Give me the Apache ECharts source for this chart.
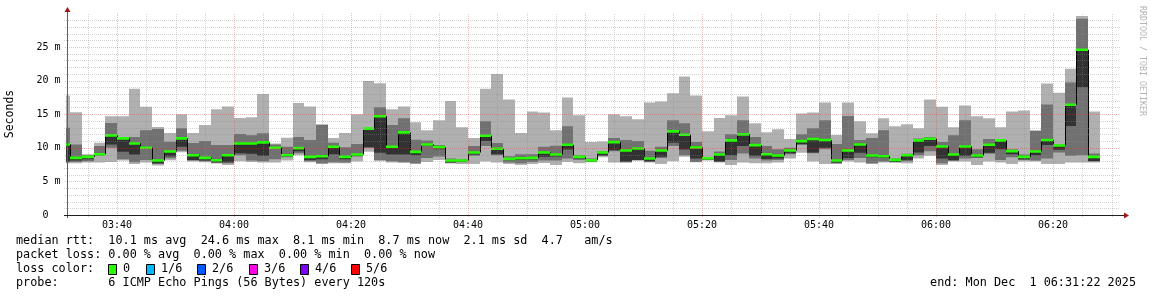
<!DOCTYPE html>
<html><head><meta charset="utf-8">
<script src="https://cdn.jsdelivr.net/npm/echarts@6/dist/echarts.min.js"></script>
<style>html,body{margin:0;padding:0;background:#fff;}#c{width:1152px;height:297px;}</style>
</head><body><div id="c"></div>
<script>
// ---- data (times in minutes after midnight, rtt in ms) ----
const firstStepStart = 210;      // 03:30, start of first (partly visible) 2-minute step
const stepMinutes = 2;
const viewStart = 211.367;       // 03:31:22
const viewEnd = 391.367;         // 06:31:22
const pingMax = [17.8,15.3,9.05,10.75,14.7,14.7,18.8,16.1,13.1,12.2,15.0,12.2,13.4,15.75,16.15,14.45,14.55,18.0,10.65,11.5,16.65,16.15,13.5,11.45,12.2,15.0,19.95,19.6,15.75,16.15,13.8,12.6,14.1,16.95,13.05,11.45,18.8,21.0,17.2,12.2,15.4,15.25,12.6,17.5,14.85,10.85,10.95,15.0,14.7,14.25,16.75,16.9,18.1,20.6,17.8,12.45,14.45,14.85,17.65,13.65,12.3,12.75,11.3,15.1,15.25,16.75,11.9,16.75,13.95,12.15,14.4,13.2,13.5,12.9,17.2,16.1,13.05,16.3,14.7,14.4,13.05,15.4,15.55,12.6,19.55,18.2,21.75,29.6,15.4];
const ping5 = [13.0,10.5,8.9,10.25,13.7,11.5,11.6,12.6,12.8,10.9,12.9,10.7,11.0,10.4,10.4,12.05,11.85,12.15,10.5,10.15,11.6,11.15,13.4,10.75,10.1,10.55,12.9,16.05,13.4,14.4,11.2,11.1,10.4,8.4,8.3,10.25,13.95,10.7,8.75,9.05,9.05,10.15,10.3,13.2,8.9,8.4,9.5,11.45,11.15,11.0,9.55,10.15,14.1,13.65,10.85,8.6,9.45,12.0,14.1,11.6,10.25,9.8,10.0,12.0,12.9,14.1,10.55,14.75,11.15,11.45,12.6,8.4,9.1,11.4,11.6,10.85,11.85,14.1,9.8,11.3,11.2,9.8,9.0,12.5,16.45,10.5,19.7,29.2,9.15];
const median = [10.5,8.5,8.65,9.05,11.85,11.4,10.65,10.0,8.1,9.45,11.4,8.9,8.5,8.15,8.9,10.65,10.65,10.8,10.0,8.9,9.95,8.65,8.75,10.15,8.65,9.0,12.85,14.7,10.15,12.3,9.4,10.5,10.1,8.1,8.1,9.3,11.8,9.85,8.35,8.45,8.5,9.3,9.0,10.45,8.65,8.15,9.3,10.85,9.6,9.9,8.4,9.6,12.45,11.95,10.05,8.45,9.0,11.1,12.0,10.4,9.05,8.85,9.6,11.0,11.3,11.15,8.1,9.6,10.5,8.85,8.75,8.2,8.9,11.1,11.35,10.2,9.0,10.2,8.85,10.45,11.1,9.5,8.65,9.45,11.15,10.35,16.4,24.6,8.65];
const ping3 = [8.0,8.1,8.3,8.9,10.5,9.4,9.0,9.9,7.7,8.75,10.15,8.2,8.1,7.85,7.85,9.2,9.1,8.8,9.9,8.7,9.5,8.2,8.3,9.05,8.3,8.8,10.1,9.25,9.0,9.0,8.9,10.3,9.8,7.85,7.95,9.0,11.0,9.05,8.15,8.2,8.25,8.65,8.7,9.75,8.4,8.0,8.85,9.65,7.95,8.2,8.0,8.65,10.75,9.75,8.4,8.3,7.95,8.9,10.25,8.8,8.35,8.4,9.2,10.55,9.3,10.0,7.8,8.5,9.25,8.6,8.5,7.9,8.2,9.3,10.25,8.4,8.2,8.8,8.6,9.25,9.8,9.05,8.3,8.9,10.4,9.7,13.25,19.0,8.05];
const ping2 = [7.8,7.9,8.0,8.9,10.0,8.3,7.85,8.2,7.6,8.45,9.55,8.1,8.0,7.75,7.7,8.9,8.1,8.0,8.3,8.6,9.2,8.0,7.7,7.85,7.8,8.7,10.0,8.2,8.0,7.9,7.7,8.5,8.7,7.75,7.85,8.8,10.25,8.9,7.8,7.7,7.9,8.1,8.1,8.4,8.2,7.95,8.8,9.5,7.85,8.15,7.9,8.5,10.25,8.9,7.9,8.2,7.9,8.2,9.15,8.4,8.1,8.2,9.05,10.4,9.2,9.8,7.7,8.2,8.5,7.7,7.95,7.85,8.0,8.9,9.5,7.7,8.05,8.4,8.5,9.1,8.2,8.6,8.2,8.1,8.4,9.3,8.8,8.9,7.95];
const pingMin = [7.7,7.7,7.8,7.8,7.9,8.1,7.6,7.8,7.35,8.15,9.35,7.95,7.85,7.65,7.45,8.0,7.9,7.8,7.8,8.1,8.9,7.85,7.6,7.7,7.7,7.95,9.4,8.0,7.8,7.75,7.6,7.9,8.2,7.65,7.6,7.6,7.95,7.8,7.6,7.45,7.6,7.75,7.45,7.9,7.7,7.85,8.6,7.8,7.8,8.1,7.8,7.6,8.0,8.65,7.85,8.1,7.8,7.45,7.8,7.7,7.7,7.8,8.4,9.25,7.95,7.6,7.6,7.95,7.8,7.6,7.8,7.8,7.7,8.4,8.8,7.45,7.95,7.95,7.45,7.95,7.8,7.6,7.95,7.95,7.6,7.6,7.8,7.8,7.8];
const xTickMinutes = [220,240,260,280,300,320,340,360,380];
const xTickLabels = ['03:40','04:00','04:20','04:40','05:00','05:20','05:40','06:00','06:20'];
const xMinorStep = 5;
const yTickValues = [0,5,10,15,20,25];
const yTickLabels = [' 0',' 5 m','10 m','15 m','20 m','25 m'];
const yMax = 30;
const legendLines = [
  'median rtt:  10.1 ms avg  24.6 ms max  8.1 ms min  8.7 ms now  2.1 ms sd  4.7   am/s',
  'packet loss: 0.00 % avg  0.00 % max  0.00 % min  0.00 % now',
  'loss color:',
  'probe:       6 ICMP Echo Pings (56 Bytes) every 120s'
];
const lossLabels = ['0','1/6','2/6','3/6','4/6','5/6'];
const lossColors = ['#26ff00','#00b8ff','#0059ff','#ff00ea','#7e00ff','#ff0000'];
const endText = 'end: Mon Dec  1 06:31:22 2025';

// ---- styles ----
const MONO = 'DejaVu Sans Mono, monospace';
const C_LIGHT = '#b0b0b0', C_MED = '#717171', C_DARK = '#323232';
function dots(color) {
  const c = document.createElement('canvas');
  c.width = 2; c.height = 2;
  const g = c.getContext('2d');
  g.fillStyle = color;
  g.fillRect(0, 0, 1, 1);
  g.fillRect(1, 1, 1, 1);
  return {image: c, repeat: 'repeat'};
}
const P_MINOR = dots('rgba(140,140,140,0.38)');
const P_MAJOR = dots('rgba(222,48,48,0.33)');

const chart = echarts.init(document.getElementById('c'), null, {renderer: 'canvas'});
const smokeData = median.map((m, i) => [firstStepStart + i * stepMinutes, pingMin[i], ping2[i], ping3[i], m, ping5[i], pingMax[i], i > 0 ? median[i - 1] : m]);

function smokeItem(params, api) {
  const t0 = api.value(0), t1 = t0 + stepMinutes;
  const p1 = api.value(1), p2 = api.value(2), p3 = api.value(3), med = api.value(4), p5 = api.value(5), p6 = api.value(6), prev = api.value(7);
  const xa = Math.round(api.coord([t0, 0])[0]);
  const xb = Math.round(api.coord([t1, 0])[0]);
  const band = (lo, hi, color) => {
    const ya = api.coord([t0, hi])[1], yb = api.coord([t0, lo])[1];
    return {type: 'rect', shape: {x: xa, y: ya, width: xb - xa, height: yb - ya}, style: {fill: color}};
  };
  const ym = api.coord([t0, med])[1];
  const yp = api.coord([t0, prev])[1];
  return {type: 'group', children: [
    band(p1, p6, C_LIGHT),
    band(p2, p5, C_MED),
    band(p3, med, C_DARK),
    {type: 'line', shape: {x1: xa + 0.5, y1: yp, x2: xa + 0.5, y2: ym}, style: {stroke: '#000', lineWidth: 1}},
    {type: 'line', shape: {x1: xa, y1: ym, x2: xb, y2: ym}, style: {stroke: '#000', lineWidth: 1}},
    {type: 'rect', shape: {x: xa, y: ym - 1.3, width: xb - xa, height: 2.6}, style: {fill: lossColors[0]}}
  ]};
}

function frameItem(params, api) {
  const ch = [];
  const o = api.coord([viewStart, 0]);
  const e = api.coord([viewEnd, yMax]);
  const x0 = Math.round(o[0]), y0 = Math.round(o[1]);
  const xEnd = Math.round(e[0]), yTop = Math.round(e[1]);
  for (let t = Math.ceil(viewStart / xMinorStep) * xMinorStep; t < viewEnd; t += xMinorStep) {
    const x = Math.round(api.coord([t, 0])[0]);
    const major = xTickMinutes.indexOf(t) >= 0;
    ch.push({type: 'rect', shape: {x: x, y: yTop, width: 1, height: y0 + 3 - yTop}, style: {fill: major ? P_MAJOR : P_MINOR}});
  }
  for (let v = 1; v < yMax; v += 1) {
    const y = Math.round(api.coord([viewStart, v])[1]);
    const major = yTickValues.indexOf(v) >= 0;
    ch.push({type: 'rect', shape: {x: x0 - 3, y: y, width: xEnd - x0 + 3, height: 1}, style: {fill: major ? P_MAJOR : P_MINOR}});
  }
  ch.push({type: 'line', shape: {x1: x0 + 0.5, y1: y0 + 3, x2: x0 + 0.5, y2: yTop - 2}, style: {stroke: '#606060', lineWidth: 1}});
  ch.push({type: 'line', shape: {x1: x0 - 3, y1: y0 + 0.5, x2: xEnd + 5, y2: y0 + 0.5}, style: {stroke: '#202020', lineWidth: 1}});
  ch.push({type: 'polygon', shape: {points: [[x0 - 2.5, yTop - 1], [x0 + 3.5, yTop - 1], [x0 + 0.5, yTop - 6]]}, style: {fill: '#a01818'}});
  ch.push({type: 'polygon', shape: {points: [[xEnd + 4, y0 - 2.5], [xEnd + 4, y0 + 3.5], [xEnd + 9, y0 + 0.5]]}, style: {fill: '#a01818'}});
  xTickMinutes.forEach((t, i) => {
    const x = api.coord([t, 0])[0];
    ch.push({type: 'text', style: {text: xTickLabels[i], x: x, y: y0 + 10, align: 'center', verticalAlign: 'middle', font: '10px ' + MONO, fill: '#000'}});
  });
  yTickValues.forEach((v, i) => {
    const y = api.coord([viewStart, v])[1];
    ch.push({type: 'text', style: {text: yTickLabels[i], x: x0 - 30.5, y: y, align: 'left', verticalAlign: 'middle', font: '10px ' + MONO, fill: '#000'}});
  });
  return {type: 'group', children: ch};
}

const LF = '11.8px ' + MONO;
const graphics = [
  {type: 'text', x: 10, y: 114, rotation: Math.PI / 2, style: {text: 'Seconds', font: '11.5px ' + MONO, fill: '#000', align: 'center', verticalAlign: 'middle'}},
  {type: 'text', x: 1142, y: 61, rotation: -Math.PI / 2, style: {text: 'RRDTOOL / TOBI OETIKER', font: '8.3px ' + MONO, fill: '#b4b4b4', align: 'center', verticalAlign: 'middle'}},
];
const lineY = [241, 255, 269, 283];
legendLines.forEach((s, i) => graphics.push({type: 'text', x: 16, y: lineY[i], style: {text: s, font: LF, fill: '#000', verticalAlign: 'middle'}}));
const boxX = [108, 146, 197, 249, 300, 351];
lossLabels.forEach((l, i) => {
  graphics.push({type: 'rect', shape: {x: boxX[i] + 0.5, y: lineY[2] - 4.5, width: 8, height: 10}, style: {fill: lossColors[i], stroke: '#000', lineWidth: 1}});
  graphics.push({type: 'text', x: boxX[i] + 15, y: lineY[2], style: {text: l, font: LF, fill: '#000', verticalAlign: 'middle'}});
});
graphics.push({type: 'text', x: 1136, y: lineY[3], style: {text: endText, font: LF, fill: '#000', align: 'right', verticalAlign: 'middle'}});

chart.setOption({
  animation: false,
  backgroundColor: '#fff',
  grid: {left: 66.5, top: 215 - 6.72 * yMax, width: 1053, height: 6.72 * yMax, containLabel: false},
  xAxis: {type: 'value', min: viewStart, max: viewEnd, show: false},
  yAxis: {type: 'value', min: 0, max: yMax, show: false},
  graphic: graphics,
  series: [
    {type: 'custom', name: 'smoke', data: smokeData, renderItem: smokeItem, clip: true, silent: true, z: 2, encode: {x: 0, y: [1, 6]}},
    {type: 'custom', name: 'frame', data: [[viewStart, 0]], renderItem: frameItem, clip: false, silent: true, z: 5, encode: {x: 0, y: 1}}
  ]
});
</script></body></html>
